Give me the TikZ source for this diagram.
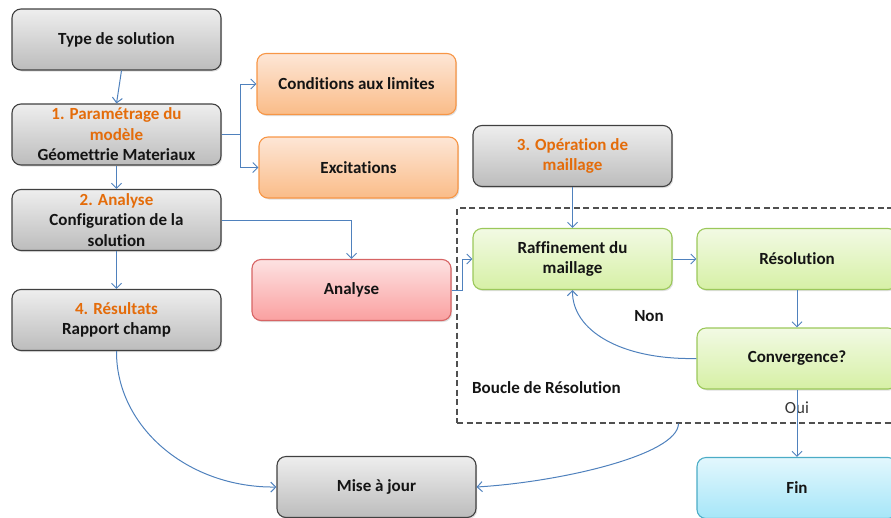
\documentclass[tikz,border=0pt]{standalone}
\usepackage{fontspec}
\setmainfont{Carlito}[Ligatures=NoCommon]
\usetikzlibrary{arrows.meta,shadows}

\definecolor{txt}{RGB}{20,20,20}
\definecolor{orng}{RGB}{228,108,10}
\definecolor{arrowc}{RGB}{79,129,189}
\definecolor{graytop}{RGB}{238,238,238}
\definecolor{graybot}{RGB}{188,188,188}
\definecolor{grayline}{RGB}{64,64,64}
\definecolor{orangetop}{RGB}{253,230,214}
\definecolor{orangebot}{RGB}{250,188,136}
\definecolor{orangeline}{RGB}{247,150,70}
\definecolor{redtop}{RGB}{253,226,226}
\definecolor{redbot}{RGB}{250,160,160}
\definecolor{redline}{RGB}{215,100,100}
\definecolor{greentop}{RGB}{242,250,228}
\definecolor{greenbot}{RGB}{214,240,165}
\definecolor{greenline}{RGB}{155,200,90}
\definecolor{bluetop}{RGB}{226,247,253}
\definecolor{bluebot}{RGB}{165,230,248}
\definecolor{blueline}{RGB}{75,172,198}
\definecolor{frameline}{RGB}{80,80,80}

\begin{document}
\begin{tikzpicture}[x=1pt,y=-1pt,
  box/.style={rounded corners=9pt, minimum width=199pt, minimum height=61pt,
    align=center, inner sep=2pt, text=txt, line width=1.1pt,
    font=\bfseries\fontsize{17}{20.5}\selectfont,
    drop shadow={shadow xshift=1.2pt, shadow yshift=-1.5pt, opacity=0.25}},
  wide/.style={minimum width=209pt},
  graybox/.style={box, draw=grayline, top color=graytop, bottom color=graybot},
  orangebox/.style={box, draw=orangeline, top color=orangetop, bottom color=orangebot},
  redbox/.style={box, draw=redline, top color=redtop, bottom color=redbot},
  greenbox/.style={box, draw=greenline, top color=greentop, bottom color=greenbot},
  bluebox/.style={box, draw=blueline, top color=bluetop, bottom color=bluebot},
  conn/.style={draw=arrowc, line width=1pt, -{Straight Barb[length=5pt,width=10pt]}},
  lbl/.style={text=txt, font=\bfseries\fontsize{17}{20}\selectfont, inner sep=1pt},
  lblreg/.style={text=txt!85, font=\fontsize{17}{20}\selectfont, inner sep=1pt}
]
\useasboundingbox (0,0) rectangle (891,517);
\clip (0,0) rectangle (891,517);

% left column: main steps
\node[graybox, wide] (type) at (116.5,39.5) {Type de solution};
\node[graybox, wide] (param) at (116.5,134.5)
  {\textcolor{orng}{1. Paramétrage du}\\\textcolor{orng}{modèle}\\Géomettrie Materiaux};
\node[graybox, wide] (an2) at (116.5,220)
  {\textcolor{orng}{2. Analyse}\\Configuration de la\\solution};
\node[graybox, wide] (res4) at (116.5,320)
  {\textcolor{orng}{4. Résultats}\\Rapport champ};

% model settings
\node[orangebox] (cond) at (356.5,84) {Conditions aux limites};
\node[orangebox] (exc) at (358.5,167.5) {Excitations};

% analysis and meshing
\node[redbox] (ana) at (351.5,290) {Analyse};
\node[graybox] (op3) at (572.5,156)
  {\textcolor{orng}{3. Opération de}\\\textcolor{orng}{maillage}};

% solution loop frame
\node[draw=frameline, line width=1.1pt, dash pattern=on 6pt off 3.5pt,
  minimum width=443pt, minimum height=215pt, inner sep=0pt] (frame) at (678.5,315.5) {};

\node[greenbox] (raf) at (572.5,259) {Raffinement du\\maillage};
\node[greenbox, minimum width=200pt] (reso) at (797,259) {Résolution};
\node[greenbox, minimum width=200pt] (conv) at (797,358.5) {Convergence?};
\node[bluebox, minimum width=200pt] (fin) at (797,488) {Fin};
\node[graybox] (maj) at (376.5,487) {Mise à jour};

% labels
\node[lbl] (non) at (649,316) {Non};
\node[lbl, anchor=west] (boucle) at (471,388) {Boucle de Résolution};
\node[lblreg] (oui) at (797,408) {Oui};

% connectors
\coordinate (split) at (240,134.5);
\draw[conn] ([xshift=5pt]type.south) -- (param.north);
\draw[draw=arrowc, line width=1pt] (param.east) -- (split);
\draw[conn] (split) |- (cond.west);
\draw[conn] (split) |- (exc.west);
\draw[conn] (param.south) -- (an2.north);
\draw[conn] (an2.south) -- (res4.north);
\draw[conn] (an2.east) -| (ana.north);
\draw[conn] (ana.east) -- ++(11,0) |- (raf.west);
\draw[conn] (op3.south) -- (raf.north);
\draw[conn] (raf.east) -- (reso.west);
\draw[conn] (reso.south) -- (conv.north);
\draw[conn] (conv.west) .. controls (620,360) and (572,330) .. (raf.south);
\draw[conn] (conv.south) -- (fin.north);
\draw[conn] (res4.south) .. controls (116,427) and (188,488) .. (maj.west);
\draw[conn] (frame.south) .. controls (678,455) and (560,482) .. (maj.east);
\end{tikzpicture}
\end{document}
